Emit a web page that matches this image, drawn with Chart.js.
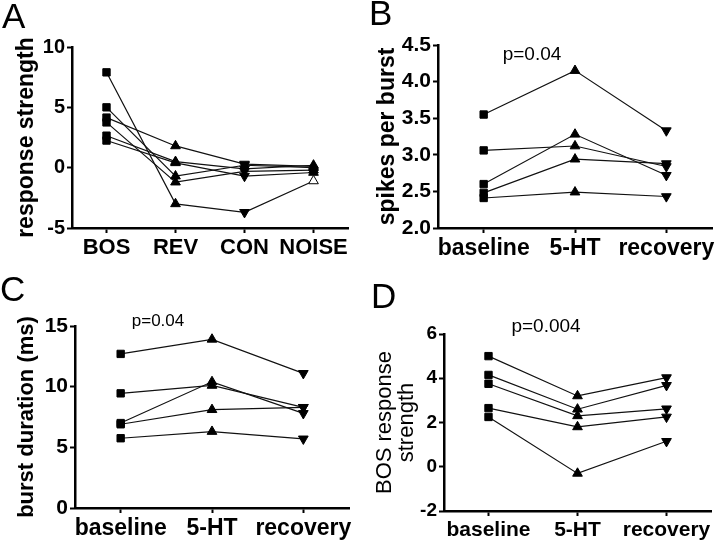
<!DOCTYPE html>
<html>
<head>
<meta charset="utf-8">
<script src="https://cdn.jsdelivr.net/npm/chart.js@4.4.1/dist/chart.umd.min.js"></script>
<style>
  body { margin: 0; background: #fff; }
  #wrap { position: relative; width: 720px; height: 542px; background: #fff; }
  #wrap canvas { position: absolute; }
</style>
</head>
<body>
<div id="wrap">
  <canvas id="cA" width="360" height="271" style="left:0;top:0"></canvas>
  <canvas id="cB" width="360" height="271" style="left:360px;top:0"></canvas>
  <canvas id="cC" width="360" height="271" style="left:0;top:271px"></canvas>
  <canvas id="cD" width="360" height="271" style="left:360px;top:271px"></canvas>
</div>
<script>
// --- DATA ---
// A: one row per cell, values at BOS / REV / CON / NOISE
const stimuli = ['BOS', 'REV', 'CON', 'NOISE'];
const responseA = [
  [7.9, -3.0, -3.7, -1.1],
  [5.0, -0.7, 0.2, 0.0],
  [4.15, 1.8, 0.3, 0.1],
  [3.75, -1.2, -0.3, -0.2],
  [2.65, 0.5, -0.1, 0.2],
  [2.25, 0.4, -0.7, -0.4]
];

// B, C, D: baseline / 5-HT / recovery
const conditions = ['baseline', '5-HT', 'recovery'];
const spikesPerBurst = [
  [3.55, 4.15, 3.33],
  [3.06, 3.12, 2.84],
  [2.60, 3.28, 2.72],
  [2.48, 2.94, 2.88],
  [2.41, 2.49, 2.43]
];
const burstDuration = [
  [12.7, 13.9, 11.1],
  [9.45, 10.1, 8.3],
  [7.0, 10.4, 7.8],
  [6.9, 8.1, 8.3],
  [5.75, 6.3, 5.7]
];
const bosStrength = [
  [5.0, 3.2, 4.03],
  [4.15, 2.6, 3.68],
  [3.75, 2.3, 2.62],
  [2.65, 1.8, 2.25],
  [2.25, -0.3, 1.15]
];

const FONT = "'Liberation Sans', Arial, sans-serif";

// panel letter + p value, drawn after the chart
const panelText = {
  id: 'panelText',
  afterDraw(chart, args, o) {
    const ctx = chart.ctx;
    ctx.save();
    ctx.fillStyle = '#000';
    ctx.textBaseline = 'alphabetic';
    ctx.textAlign = 'left';
    ctx.font = '35px ' + FONT;
    ctx.fillText(o.letter, o.lx, o.ly);
    if (o.note) {
      ctx.textAlign = 'center';
      ctx.font = o.noteSize + 'px ' + FONT;
      ctx.fillText(o.note, o.nx, o.ny);
    }
    ctx.restore();
  }
};

function makePanel(id, cats, rows, cfg) {
  const styles = cats.map((c, i) => i === 0 ? 'rect' : 'triangle');
  const rot = cats.map((c, i) => (cfg.downAt || []).includes(i) ? 180 : 0);
  const datasets = rows.map((r, k) => ({
    data: r,
    borderColor: '#111',
    borderWidth: 1.2,
    pointStyle: c => styles[c.dataIndex],
    pointRotation: c => rot[c.dataIndex],
    pointRadius: c => c.dataIndex === 0 ? 5.2 : 5.6,
    pointBackgroundColor: c => (cfg.hollow && cfg.hollow[0] === k && cfg.hollow[1] === c.dataIndex) ? '#fff' : '#000',
    pointBorderColor: '#000',
    pointBorderWidth: 1
  }));
  return new Chart(document.getElementById(id), {
    type: 'line',
    data: { labels: cats, datasets },
    plugins: [panelText],
    options: {
      responsive: false,
      animation: false,
      devicePixelRatio: 1,
      layout: { padding: { left: 0, top: cfg.top, right: cfg.right, bottom: 0 } },
      plugins: {
        legend: { display: false },
        tooltip: { enabled: false },
        panelText: cfg.text
      },
      scales: {
        x: {
          offset: true,
          afterFit: s => { s.height = cfg.xh; },
          border: { display: true, color: '#000', width: 2.5 },
          grid: { display: true, drawOnChartArea: false, color: '#000', tickLength: 5, tickWidth: 2, offset: false },
          ticks: {
            autoSkip: false, maxRotation: 0, padding: 2, color: '#000',
            font: { family: FONT, size: cfg.xfont, weight: 'bold' }
          }
        },
        y: {
          min: cfg.min, max: cfg.max,
          afterFit: s => { s.width = cfg.yw; },
          border: { display: true, color: '#000', width: 2.5 },
          grid: { display: true, drawOnChartArea: false, color: '#000', tickLength: 5, tickWidth: 2 },
          ticks: {
            stepSize: cfg.step, padding: 2, color: '#000',
            font: { family: FONT, size: cfg.yfont, weight: 'bold' },
            callback: cfg.fmt || (v => v)
          },
          title: {
            display: true, text: cfg.title, color: '#000',
            padding: { top: cfg.tpad, bottom: 0 },
            font: { family: FONT, size: cfg.tfont, weight: cfg.tweight || 'bold', lineHeight: cfg.tlh || 1.2 }
          }
        }
      }
    }
  });
}

makePanel('cA', stimuli, responseA, {
  top: 47, right: 12, xh: 43, yw: 72, min: -5, max: 10, step: 5,
  xfont: 22, yfont: 20, title: 'response strength', tfont: 23, tpad: 13,
  downAt: [2], hollow: [0, 3],
  text: { letter: 'A', lx: 2, ly: 28 }
});

makePanel('cB', conditions, spikesPerBurst, {
  top: 45, right: 8, xh: 43, yw: 78, min: 2.0, max: 4.5, step: 0.5,
  xfont: 23, yfont: 21, title: 'spikes per burst', tfont: 23, tpad: 14,
  fmt: v => v.toFixed(1), downAt: [2],
  text: { letter: 'B', lx: 9, ly: 25, note: 'p=0.04', noteSize: 19, nx: 172, ny: 60 }
});

makePanel('cC', conditions, burstDuration, {
  top: 55, right: 11, xh: 34, yw: 75, min: 0, max: 15, step: 5,
  xfont: 23, yfont: 21, title: 'burst duration (ms)', tfont: 22, tpad: 14,
  downAt: [2],
  text: { letter: 'C', lx: 0, ly: 30, note: 'p=0.04', noteSize: 17, nx: 158, ny: 55 }
});

makePanel('cD', conditions, bosStrength, {
  top: 63, right: 9, xh: 31, yw: 84, min: -2, max: 6, step: 2,
  xfont: 21, yfont: 19, title: ['BOS response', 'strength'], tfont: 22, tlh: 1.0,
  tweight: 'normal', tpad: 14, downAt: [2],
  text: { letter: 'D', lx: 11, ly: 37, note: 'p=0.004', noteSize: 19, nx: 186, ny: 61 }
});
</script>
</body>
</html>
